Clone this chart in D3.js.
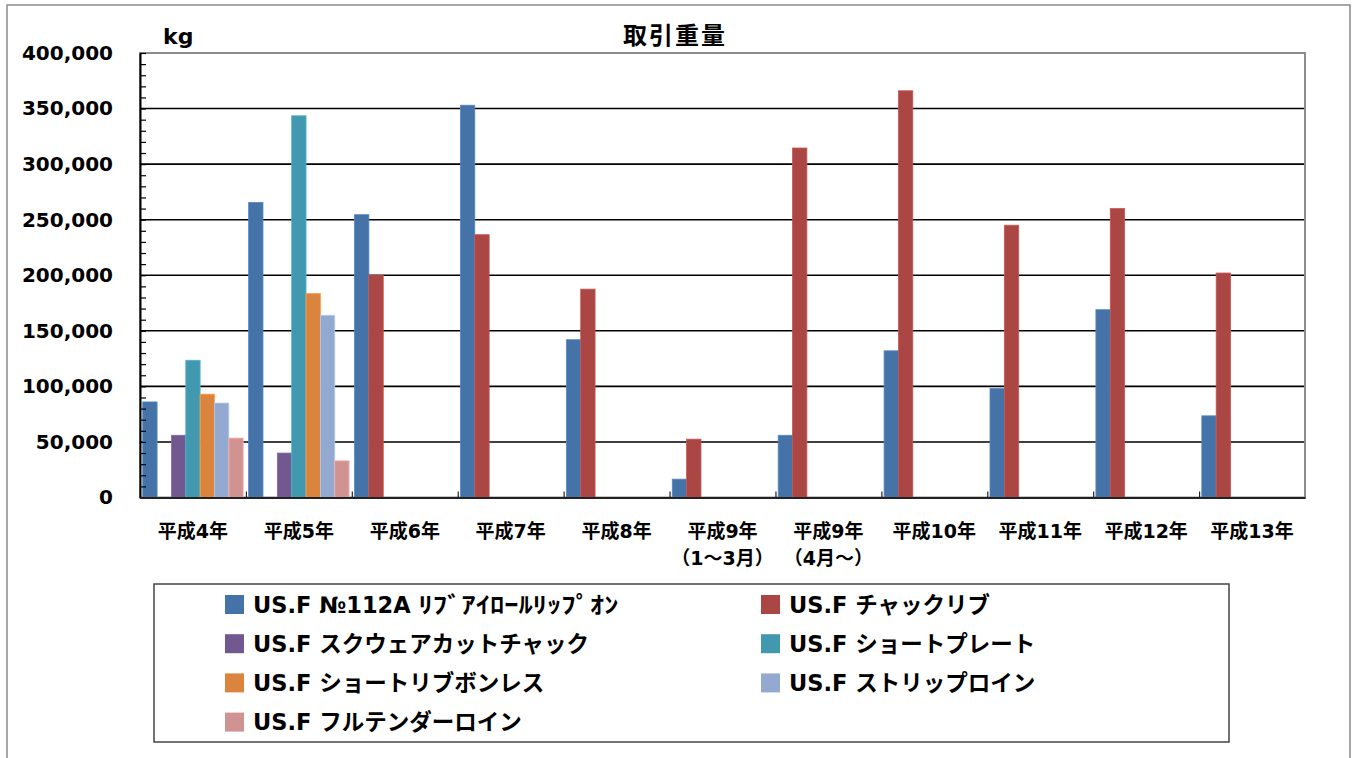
<!DOCTYPE html>
<html lang="ja">
<head>
<meta charset="utf-8">
<script src="https://cdn.jsdelivr.net/npm/d3@7"></script>
<style>
  body { margin: 0; background: #fff; }
  text { font-family: "DejaVu Sans", "Noto Sans CJK JP", sans-serif; font-weight: bold; fill: #000; }
</style>
</head>
<body>
<script>
const width = 1356;
const height = 758;
const plot = {left: 140, right: 1305, top: 53, bottom: 497.5};

const categories = ['平成4年', '平成5年', '平成6年', '平成7年', '平成8年', '平成9年\n（1～3月）',
  '平成9年\n（4月～）', '平成10年', '平成11年', '平成12年', '平成13年'];
const seriesNames = ['US.F №112A ﾘﾌﾞｱｲﾛｰﾙﾘｯﾌﾟｵﾝ', 'US.F チャックリブ', 'US.F スクウェアカットチャック',
  'US.F ショートプレート', 'US.F ショートリブボンレス', 'US.F ストリップロイン', 'US.F フルテンダーロイン'];
const seriesColors = ['#4572a7', '#aa4643', '#71588f', '#4198af', '#db843d', '#93a9cf', '#d19392'];

// 取引重量 (kg)
const ribeyeRollLipOn = [86000, 265500, 254500, 353000, 142000, 16500, 56000, 132000, 98000, 169000, 73500];
const chuckRib = [null, null, 200000, 236500, 187500, 52500, 314500, 366000, 245000, 260000, 202000];
const squareCutChuck = [56000, 40000, null, null, null, null, null, null, null, null, null];
const shortPlate = [123500, 343500, null, null, null, null, null, null, null, null, null];
const shortRibBoneless = [93000, 183500, null, null, null, null, null, null, null, null, null];
const stripLoin = [85000, 164000, null, null, null, null, null, null, null, null, null];
const fullTenderloin = [53500, 33000, null, null, null, null, null, null, null, null, null];
const yTicks = [0, 50000, 100000, 150000, 200000, 250000, 300000, 350000, 400000];

const seriesValues = [ribeyeRollLipOn, chuckRib, squareCutChuck, shortPlate, shortRibBoneless, stripLoin, fullTenderloin];
const series = seriesNames.map((name, i) => ({name, color: seriesColors[i], values: seriesValues[i]}));

const x0 = d3.scaleBand()
  .domain(categories)
  .range([plot.left, plot.right]);

const x1 = d3.scaleBand()
  .domain(seriesNames)
  .range([0, x0.bandwidth()])
  .paddingOuter(0.19);

const xEdge = d3.scaleLinear()
  .domain([0, categories.length])
  .range([plot.left, plot.right]);

const y = d3.scaleLinear()
  .domain([0, 400000])
  .range([plot.bottom, plot.top]);

const svg = d3.select('body').append('svg')
  .attr('width', width)
  .attr('height', height);

// outer frame of the chart
svg.append('rect')
  .attr('x', 7).attr('y', 5)
  .attr('width', 1343).attr('height', 800)
  .attr('fill', 'none')
  .attr('stroke', '#8a8a8a')
  .attr('stroke-width', 1.5);

// gridlines
svg.append('g')
  .selectAll('line')
  .data(yTicks.filter(d => d > 0 && d < 400000))
  .join('line')
  .attr('x1', plot.left).attr('x2', plot.right)
  .attr('y1', d => y(d)).attr('y2', d => y(d))
  .attr('stroke', '#000')
  .attr('stroke-width', 1.6);

// plot border (top / right)
svg.append('rect')
  .attr('x', plot.left).attr('y', plot.top)
  .attr('width', plot.right - plot.left).attr('height', plot.bottom - plot.top)
  .attr('fill', 'none')
  .attr('stroke', '#8c8c8c')
  .attr('stroke-width', 2);

// bars
svg.append('g')
  .selectAll('g')
  .data(series)
  .join('g')
  .attr('fill', d => d.color)
  .attr('stroke', d => d3.color(d.color).brighter(0.5))
  .attr('stroke-width', 0.8)
  .selectAll('rect')
  .data(d => d.values.map((v, i) => ({name: d.name, cat: categories[i], value: v})).filter(e => e.value != null))
  .join('rect')
  .attr('x', d => x0(d.cat) + x1(d.name))
  .attr('y', d => y(d.value))
  .attr('width', x1.bandwidth())
  .attr('height', d => y(0) - y(d.value));

// y axis: minor ticks inside, labels on the left
svg.append('g')
  .attr('transform', `translate(${plot.left},0)`)
  .call(d3.axisLeft(y).tickValues(d3.range(0, 400001, 10000)).tickSize(-6).tickSizeOuter(0).tickFormat(''))
  .call(g => g.select('.domain').attr('stroke', '#000').attr('stroke-width', 2))
  .call(g => g.selectAll('.tick line').attr('stroke', '#000').attr('stroke-width', 1.2));

svg.append('g')
  .attr('transform', `translate(${plot.left},0)`)
  .call(d3.axisLeft(y).tickValues(yTicks).tickSize(0).tickPadding(27).tickFormat(d3.format(',')))
  .call(g => g.select('.domain').remove())
  .call(g => g.selectAll('text')
    .attr('font-size', 20)
    .attr('font-family', '"DejaVu Sans", sans-serif')
    .attr('fill', '#000'));

// x axis: boundary ticks pointing up
svg.append('g')
  .attr('transform', `translate(0,${plot.bottom})`)
  .call(d3.axisBottom(xEdge).tickValues(d3.range(1, categories.length)).tickSize(-6).tickSizeOuter(0).tickFormat(''))
  .call(g => g.select('.domain').attr('stroke', '#222').attr('stroke-width', 2))
  .call(g => g.selectAll('.tick line').attr('stroke', '#222').attr('stroke-width', 1.2));

svg.append('g')
  .attr('transform', `translate(0,${plot.bottom})`)
  .call(d3.axisBottom(x0).tickSize(0).tickPadding(0))
  .call(g => g.select('.domain').remove())
  .call(g => g.selectAll('text')
    .attr('font-size', 19)
    .attr('font-family', null)
    .attr('fill', '#000')
    .attr('y', 0)
    .attr('dy', null)
    .each(function(d) {
      const t = d3.select(this);
      const lines = d.split('\n');
      t.text(null);
      lines.forEach((line, i) => {
        t.append('tspan')
          .attr('x', 0)
          .attr('y', 40 + i * 27)
          .text(line);
      });
    }));

// title and unit
svg.append('text')
  .attr('x', 675).attr('y', 44)
  .attr('text-anchor', 'middle')
  .attr('font-size', 24)
  .attr('letter-spacing', 2)
  .text('取引重量');

svg.append('text')
  .attr('x', 163).attr('y', 44)
  .attr('font-size', 22)
  .text('kg');

// legend
const legend = svg.append('g');
legend.append('rect')
  .attr('x', 154).attr('y', 584)
  .attr('width', 1075).attr('height', 158)
  .attr('fill', 'none')
  .attr('stroke', '#444')
  .attr('stroke-width', 1.5);

const legendItem = legend.selectAll('g.item')
  .data(series)
  .join('g')
  .attr('class', 'item')
  .attr('transform', (d, i) => `translate(${i % 2 ? 761 : 225},${595 + Math.floor(i / 2) * 39.2})`);

legendItem.append('rect')
  .attr('width', 19).attr('height', 19)
  .attr('fill', d => d.color);

legendItem.append('text')
  .attr('x', 28).attr('y', 9.5)
  .attr('dy', '0.36em')
  .attr('font-size', 22.5)
  .each(function(d) {
    const t = d3.select(this);
    // half-width katakana are drawn wider in the original, stretch that run
    const m = d.name.match(/^(.*?)([\uFF61-\uFF9F]+)$/);
    if (m) {
      t.append('tspan').text(m[1]);
      t.append('tspan').attr('textLength', 200).attr('lengthAdjust', 'spacingAndGlyphs').text(m[2]);
    } else {
      t.text(d.name);
    }
  });
</script>
</body>
</html>
